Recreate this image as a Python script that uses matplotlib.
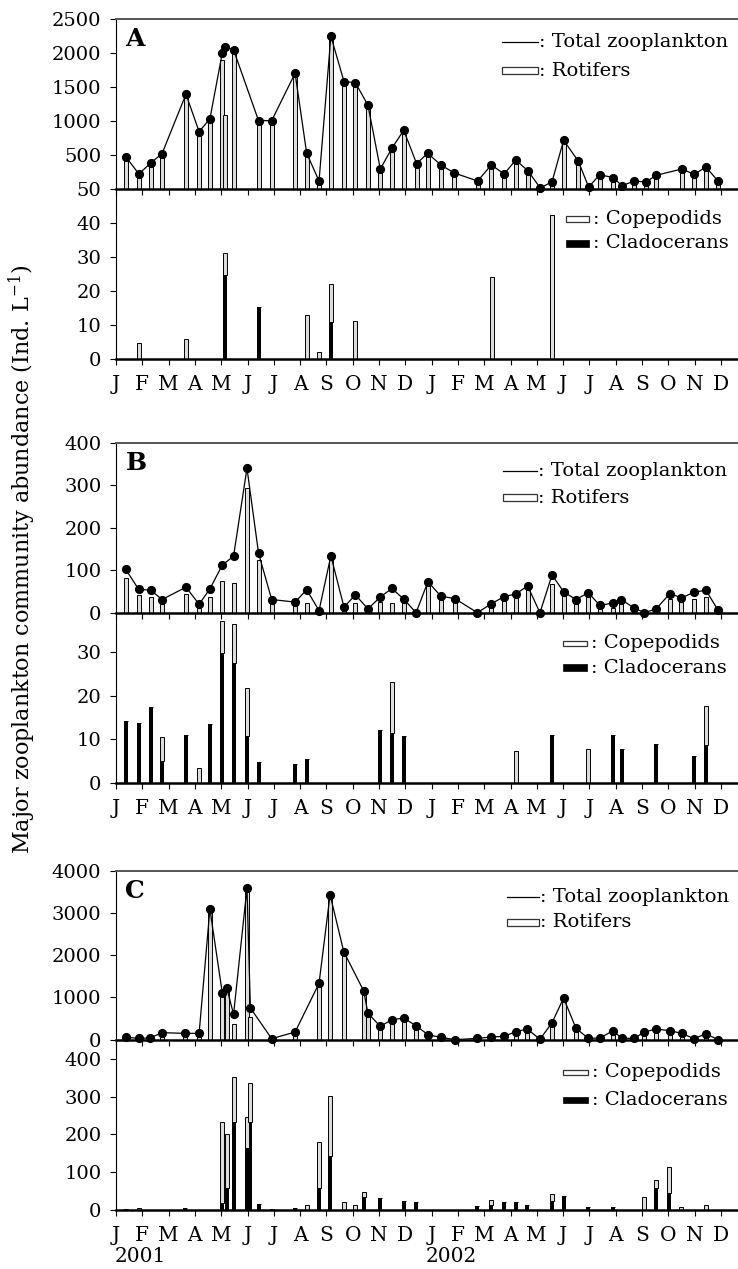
import matplotlib
matplotlib.use("Agg")
import matplotlib.pyplot as plt
from matplotlib.patches import Rectangle
import numpy as np

plt.rcParams['font.family'] = ['DejaVu Serif']
plt.rcParams['mathtext.fontset'] = 'dejavuserif'

month_labels = ['J', 'F', 'M', 'A', 'M', 'J', 'J', 'A', 'S', 'O', 'N', 'D',
                'J', 'F', 'M', 'A', 'M', 'J', 'J', 'A', 'S', 'O', 'N', 'D']
year_labels = ['2001', '2002']

# ---------------- Panel A ----------------
a_time = [0.37, 0.87, 1.32, 1.75, 2.66, 3.16, 3.57, 4.04, 4.14, 4.47, 5.42, 5.92, 6.81, 7.25,
          7.72, 8.17, 8.67, 9.10, 9.58, 10.05, 10.49, 10.94, 11.43, 11.85, 12.35, 12.86, 13.75,
          14.27, 14.76, 15.20, 15.67, 16.13, 16.58, 17.02, 17.58, 17.97, 18.40, 18.91, 19.24,
          19.70, 20.15, 20.54, 21.51, 21.99, 22.43, 22.89]
a_total = [472, 217, 379, 516, 1392, 841, 1028, 1997, 2090, 2046, 1003, 1003, 1702, 522,
           113, 2248, 1578, 1563, 1230, 290, 596, 861, 369, 522, 350, 232, 113,
           350, 217, 423, 261, 10, 103, 714, 404, 25, 207, 162, 44,
           113, 99, 197, 290, 212, 320, 113]
a_rotifers = [465, 212, 374, 510, 1385, 836, 1022, 1898, 1087, 2040, 998, 998, 1690, 509,
              110, 2226, 1572, 1557, 1224, 288, 594, 858, 366, 518, 347, 229, 110,
              346, 214, 420, 258, 8, 101, 710, 402, 23, 205, 160, 42,
              111, 97, 195, 288, 210, 318, 111]
a_sub_time = [0.87, 2.66, 4.14, 5.42, 7.25, 7.72, 8.17, 9.09, 14.28, 16.58]
a_clad = [0, 0, 24.7, 15.4, 0, 0, 10.9, 0, 0, 0]
a_cop = [4.7, 5.8, 6.5, 0, 12.8, 2.2, 11.0, 11.3, 24.2, 42.4]

# ---------------- Panel B ----------------
b_time = [0.37, 0.86, 1.32, 1.75, 2.66, 3.16, 3.57, 4.04, 4.47, 4.98, 5.42, 5.92, 6.81, 7.25,
          7.72, 8.17, 8.67, 9.10, 9.58, 10.05, 10.49, 10.94, 11.41, 11.86, 12.35, 12.89, 13.74,
          14.27, 14.76, 15.20, 15.65, 16.12, 16.58, 17.02, 17.49, 17.96, 18.40, 18.90, 19.21,
          19.70, 20.09, 20.54, 21.06, 21.50, 21.98, 22.43, 22.89]
b_total = [102, 55, 53, 31, 60, 20, 56, 112, 133, 340, 140, 31, 25, 54,
           5, 134, 13, 42, 9, 37, 57, 32, 0, 73, 39, 33, 0,
           21, 38, 44, 63, 0, 89, 49, 31, 47, 17, 23, 31,
           11, 0, 9, 45, 35, 48, 53, 6]
b_rotifers = [81, 42, 36, 20, 44, 10, 36, 75, 70, 294, 125, 25, 18, 23,
              2, 128, 8, 23, 5, 25, 24, 28, 0, 63, 30, 30, 0,
              14, 30, 35, 57, 0, 67, 42, 20, 44, 10, 10, 22,
              5, 0, 5, 32, 30, 32, 36, 3]
b_sub_time = [0.37, 0.86, 1.32, 1.75, 2.66, 3.16, 3.57, 4.04, 4.47, 4.98, 5.42, 6.81, 7.25,
              10.05, 10.49, 10.94, 15.20, 16.58, 17.96, 18.90, 19.23, 20.53, 21.98, 22.43]
b_clad = [14.1, 13.7, 17.5, 5.0, 10.9, 0, 13.4, 29.8, 27.5, 10.8, 4.9, 4.3, 5.5,
          12.2, 11.5, 10.7, 0, 11.1, 0, 11.1, 7.7, 8.9, 6.1, 8.7]
b_cop = [0, 0, 0, 5.5, 0, 3.4, 0, 7.4, 9.0, 10.9, 0, 0, 0,
         0, 11.6, 0, 7.3, 0, 7.9, 0, 0, 0, 0, 8.9]

# ---------------- Panel C ----------------
c_time = [0.37, 0.87, 1.29, 1.75, 2.64, 3.16, 3.57, 4.04, 4.21, 4.47, 4.98, 5.11, 5.92, 6.81,
          7.72, 8.14, 8.66, 9.42, 9.58, 10.05, 10.49, 10.94, 11.42, 11.88, 12.35, 12.89, 13.74,
          14.27, 14.76, 15.20, 15.64, 16.12, 16.58, 17.02, 17.49, 17.96, 18.40, 18.90, 19.23,
          19.70, 20.09, 20.54, 21.06, 21.51, 21.98, 22.43, 22.89]
c_total = [57, 32, 40, 166, 150, 150, 3093, 1113, 1231, 600, 3590, 750, 24, 182,
           1334, 3432, 2083, 1153, 624, 317, 473, 513, 324, 111, 57, 0, 32,
           64, 80, 190, 253, 10, 403, 987, 269, 32, 40, 213, 32,
           32, 182, 253, 213, 150, 24, 142, 0]
c_rotifers = [50, 28, 35, 160, 145, 140, 3050, 1100, 1200, 372, 3500, 530, 20, 175,
              1300, 3380, 2060, 1100, 600, 300, 460, 500, 315, 100, 50, 0, 25,
              55, 60, 150, 170, 5, 360, 950, 260, 25, 35, 150, 25,
              20, 150, 150, 100, 140, 15, 130, 0]
c_sub_time = [0.37, 0.87, 2.64, 4.04, 4.21, 4.47, 4.98, 5.11, 5.42, 5.92, 6.81, 7.25, 7.72,
              8.14, 8.66, 9.09, 9.42, 10.05, 10.94, 11.42, 13.74, 14.27, 14.76, 15.20, 15.64,
              16.58, 17.02, 17.96, 18.90, 20.08, 20.53, 21.04, 21.47, 22.43]
c_clad = [0, 0, 5, 19, 57, 233, 165, 233, 16, 0, 4, 0, 57,
          143, 0, 0, 33.6, 32.6, 24, 20, 10.6, 13, 21, 20, 13,
          24.7, 37, 9, 8, 0, 58.3, 44, 0, 0]
c_cop = [3.5, 4, 0, 213, 145, 118, 81, 103, 0, 3, 0, 13, 122,
         160, 22, 12, 14.9, 0, 0, 0, 0, 12.6, 0, 0, 0,
         18.3, 0, 0, 0, 33.6, 20.3, 69, 9, 12]

# ---------------- Layout ----------------
W, H = 738, 1269
fig = plt.figure(figsize=(W / 100, H / 100), dpi=100)

LEFT_PX = 116
PX_PER_MONTH = 26.3
XMAX = (W - LEFT_PX) / PX_PER_MONTH
BAR_W = 0.15
GRAY = '#dcdcdc'
FS = 14
MFS = 14.5


def add_axes(top_px, bottom_px):
    return fig.add_axes([LEFT_PX / W, 1 - bottom_px / H, 1 - LEFT_PX / W,
                         (bottom_px - top_px) / H])


def style(ax, ylim, yticks, yticklabels, top_panel, show_months):
    ax.set_xlim(0, XMAX)
    ax.set_ylim(*ylim)
    ax.set_yticks(yticks)
    ax.set_yticklabels(yticklabels, fontsize=FS)
    ax.set_xticks(range(len(month_labels)))
    if show_months:
        ax.set_xticklabels(month_labels, fontsize=MFS)
    else:
        ax.set_xticklabels([])
    ax.tick_params(axis='both', direction='out', length=4.5, width=0.8, pad=6)
    ax.tick_params(axis='x', pad=7)
    ax.spines['right'].set_visible(False)
    ax.spines['left'].set_linewidth(0.8)
    ax.spines['bottom'].set_linewidth(1.8)
    if top_panel:
        ax.spines['top'].set_color('#555555')
        ax.spines['top'].set_linewidth(1.4)
    else:
        ax.spines['top'].set_visible(False)
    ax.patch.set_alpha(0)


def draw_top(ax, t, total, rot):
    ax.bar(t, rot, width=BAR_W, facecolor=GRAY, edgecolor='black', linewidth=0.7, zorder=2)
    ax.plot(t, total, color='black', lw=0.9, marker='o', markersize=5.6, zorder=3,
            clip_on=False)


def draw_bottom(ax, t, clad, cop):
    ax.bar(t, clad, width=BAR_W, color='black', linewidth=0, zorder=2)
    ax.bar(t, cop, bottom=clad, width=BAR_W, facecolor=GRAY, edgecolor='black',
           linewidth=0.7, zorder=2)


def px2ax(px):
    return (px - LEFT_PX) / (W - LEFT_PX)


def legend_top(ax, y_line, y_rect, x0, x1):
    ax.plot([px2ax(x0), px2ax(x1)], [y_line, y_line], color='black', lw=0.9,
            transform=ax.transAxes, clip_on=False)
    ax.text(px2ax(x1) + 0.002, y_line, ': Total zooplankton', transform=ax.transAxes,
            fontsize=FS, va='center', ha='left')
    rh = 0.042
    ax.add_patch(Rectangle((px2ax(x0), y_rect - rh / 2), px2ax(x1) - px2ax(x0), rh,
                           transform=ax.transAxes, facecolor='white', edgecolor='#333333',
                           lw=0.9, clip_on=False))
    ax.text(px2ax(x1) + 0.002, y_rect, ': Rotifers', transform=ax.transAxes,
            fontsize=FS, va='center', ha='left')


def legend_bottom(ax, y_cop, y_clad, x0, x1):
    rh = 0.03
    ax.add_patch(Rectangle((px2ax(x0), y_cop - rh / 2), px2ax(x1) - px2ax(x0), rh,
                           transform=ax.transAxes, facecolor='white', edgecolor='#333333',
                           lw=0.9, clip_on=False))
    ax.text(px2ax(x1) + 0.006, y_cop, ': Copepodids', transform=ax.transAxes,
            fontsize=FS, va='center', ha='left')
    rh2 = 0.038
    ax.add_patch(Rectangle((px2ax(x0), y_clad - rh2 / 2), px2ax(x1) - px2ax(x0), rh2,
                           transform=ax.transAxes, facecolor='black', edgecolor='black',
                           lw=0.5, clip_on=False))
    ax.text(px2ax(x1) + 0.006, y_clad, ': Cladocerans', transform=ax.transAxes,
            fontsize=FS, va='center', ha='left')


# Panel A
axA = add_axes(19, 188.7)
draw_top(axA, a_time, a_total, a_rotifers)
style(axA, (0, 2500), [0, 500, 1000, 1500, 2000, 2500],
      ['50', '500', '1000', '1500', '2000', '2500'], True, False)
legend_top(axA, 0.864, 0.694, 502, 538)
axA.text(0.015, 0.95, 'A', transform=axA.transAxes, fontsize=18, fontweight='bold',
         va='top', ha='left')

axA2 = add_axes(188.7, 359)
draw_bottom(axA2, a_sub_time, a_clad, a_cop)
style(axA2, (0, 50), [0, 10, 20, 30, 40], ['0', '10', '20', '30', '40'], False, True)
legend_bottom(axA2, 0.822, 0.679, 566, 589)

# Panel B
axB = add_axes(442.7, 612.7)
draw_top(axB, b_time, b_total, b_rotifers)
style(axB, (0, 400), [0, 100, 200, 300, 400], ['0', '100', '200', '300', '400'], True, False)
legend_top(axB, 0.834, 0.676, 503, 537)
axB.text(0.015, 0.95, 'B', transform=axB.transAxes, fontsize=18, fontweight='bold',
         va='top', ha='left')

axB2 = add_axes(612.7, 783)
draw_bottom(axB2, b_sub_time, b_clad, b_cop)
style(axB2, (0, 39), [0, 10, 20, 30], ['0', '10', '20', '30'], False, True)
legend_bottom(axB2, 0.820, 0.677, 563, 587)

# Panel C
axC = add_axes(870.7, 1039.7)
draw_top(axC, c_time, c_total, c_rotifers)
style(axC, (0, 4000), [0, 1000, 2000, 3000, 4000], ['0', '1000', '2000', '3000', '4000'],
      True, False)
legend_top(axC, 0.846, 0.695, 507, 539)
axC.text(0.015, 0.95, 'C', transform=axC.transAxes, fontsize=18, fontweight='bold',
         va='top', ha='left')

axC2 = add_axes(1040, 1210)
draw_bottom(axC2, c_sub_time, c_clad, c_cop)
style(axC2, (0, 450), [0, 100, 200, 300, 400], ['0', '100', '200', '300', '400'], False, True)
legend_bottom(axC2, 0.81, 0.647, 563, 588)

# Year labels
fig.text(115 / W, 1 - 1257 / H, year_labels[0], fontsize=MFS, ha='left', va='center')
fig.text(426 / W, 1 - 1257 / H, year_labels[1], fontsize=MFS, ha='left', va='center')

# Y label
fig.text(22 / W, 1 - 559 / H, 'Major zooplankton community abundance (Ind. L$^{-1}$)',
         rotation=90, fontsize=16, ha='center', va='center')

fig.savefig('out.png', dpi=100)
